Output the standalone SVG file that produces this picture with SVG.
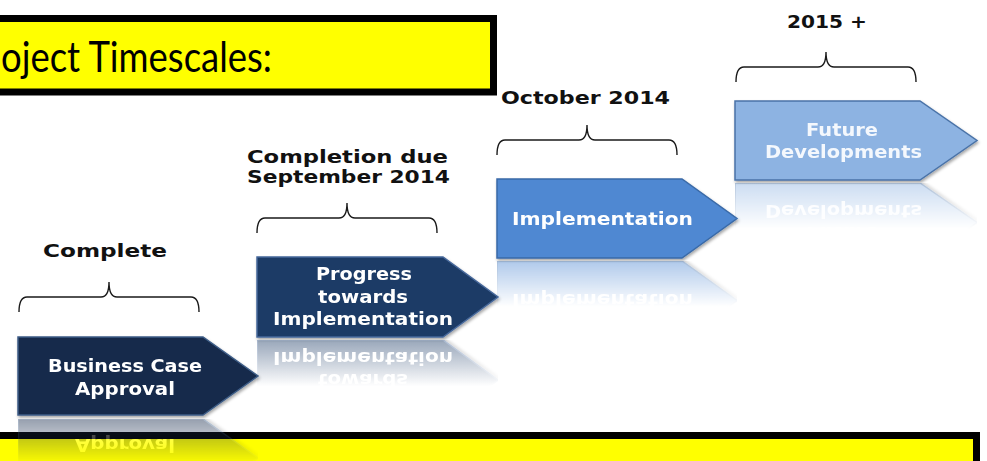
<svg xmlns="http://www.w3.org/2000/svg" width="987" height="461" viewBox="0 0 987 461">
  <style>
    .lbl { font-family: "DejaVu Sans", Verdana, sans-serif; font-weight: bold; font-size: 18px; fill: #111111; text-anchor: middle; }
    .ntx { font-family: "DejaVu Sans", Verdana, sans-serif; font-weight: bold; font-size: 18px; fill: #ffffff; text-anchor: middle; }
    .ntx4 { fill: #f4f8fd; }
    .brace { fill: none; stroke: #1a1a1a; stroke-width: 1.4; }
    .banner { fill: #ffff00; stroke: #000000; stroke-width: 7; }
    .title { font-family: Lato, "Liberation Sans", Arial, sans-serif; font-size: 42px; fill: #000000; }
  </style>
  <defs>
    <filter id="shadow" x="-10%" y="-10%" width="125%" height="130%">
      <feDropShadow dx="1" dy="2" stdDeviation="1.5" flood-color="#000000" flood-opacity="0.35"/>
    </filter>
    <linearGradient id="fadeGrad" x1="0" y1="0" x2="0" y2="1">
      <stop offset="0" stop-color="#ffffff" stop-opacity="0.45"/>
      <stop offset="0.3" stop-color="#ffffff" stop-opacity="0.22"/>
      <stop offset="0.58" stop-color="#ffffff" stop-opacity="0"/>
    </linearGradient>
    <mask id="fade" maskContentUnits="objectBoundingBox">
      <rect x="0" y="0" width="1" height="1" fill="url(#fadeGrad)"/>
    </mask>
  </defs>

  <!-- title banner -->
  <g id="title-box">
    <rect class="banner" x="-10" y="18.5" width="503.5" height="73.5"/>
    <text class="title" x="1" y="72" textLength="271" lengthAdjust="spacingAndGlyphs">oject Timescales:</text>
  </g>

  <!-- bottom banner -->
  <g id="bottom-box">
    <rect class="banner" x="-10" y="435.5" width="986.5" height="40"/>
  </g>

  <!-- nodes -->
  <g id="n1" filter="url(#shadow)">
    <path d="M18,337 H203 L258,376 L203,415 H18 Z" fill="#14294b" stroke="#3d5c86" stroke-width="1.5"/>
    <text class="ntx" x="125" y="372" textLength="154" lengthAdjust="spacingAndGlyphs">Business Case</text>
    <text class="ntx" x="125" y="395" textLength="100" lengthAdjust="spacingAndGlyphs">Approval</text>
  </g>
  <g id="n2" filter="url(#shadow)">
    <path d="M257,257 H443 L498,297 L443,337 H257 Z" fill="#1c3b66" stroke="#46679a" stroke-width="1.5"/>
    <text class="ntx" x="364" y="280" textLength="96" lengthAdjust="spacingAndGlyphs">Progress</text>
    <text class="ntx" x="363" y="303" textLength="90" lengthAdjust="spacingAndGlyphs">towards</text>
    <text class="ntx" x="363" y="325" textLength="180" lengthAdjust="spacingAndGlyphs">Implementation</text>
  </g>
  <g id="n3" filter="url(#shadow)">
    <path d="M497,179 H682 L737,218.5 L682,258 H497 Z" fill="#4f88d2" stroke="#3a6aa8" stroke-width="1.5"/>
    <text class="ntx" x="602.5" y="225" textLength="181" lengthAdjust="spacingAndGlyphs">Implementation</text>
  </g>
  <g id="n4" filter="url(#shadow)">
    <path d="M735,101 H920 L977,140.5 L920,180 H735 Z" fill="#8db3e2" stroke="#4a73a8" stroke-width="1.5"/>
    <text class="ntx ntx4" x="842" y="136" textLength="72" lengthAdjust="spacingAndGlyphs">Future</text>
    <text class="ntx ntx4" x="843.5" y="158" textLength="157" lengthAdjust="spacingAndGlyphs">Developments</text>
  </g>

  <!-- reflections -->
  <g id="reflections">
    <g mask="url(#fade)"><use href="#n1" transform="translate(0,834) scale(1,-1)"/></g>
    <g mask="url(#fade)"><use href="#n2" transform="translate(0,677) scale(1,-1)"/></g>
    <g mask="url(#fade)"><use href="#n3" transform="translate(0,519) scale(1,-1)"/></g>
    <g mask="url(#fade)"><use href="#n4" transform="translate(0,363) scale(1,-1)"/></g>
  </g>

  <!-- braces -->
  <g id="connectors">
    <path class="brace" d="M19,312 Q19,297 27,297 L101,297 Q109,297 109,282 Q109,297 117,297 L191,297 Q199,297 199,312"/>
    <path class="brace" d="M257,233 Q257,218 265,218 L339,218 Q347,218 347,203 Q347,218 355,218 L429,218 Q437,218 437,233"/>
    <path class="brace" d="M497,155 Q497,140 505,140 L579,140 Q587,140 587,125 Q587,140 595,140 L669,140 Q677,140 677,155"/>
    <path class="brace" d="M736,82 Q736,67 744,67 L818,67 Q826,67 826,52 Q826,67 834,67 L908,67 Q916,67 916,82"/>
  </g>
  <g id="labels">
    <text class="lbl" x="105" y="257" textLength="124" lengthAdjust="spacingAndGlyphs">Complete</text>
    <text class="lbl" x="347.5" y="163" textLength="201" lengthAdjust="spacingAndGlyphs">Completion due</text>
    <text class="lbl" x="348.5" y="183" textLength="203" lengthAdjust="spacingAndGlyphs">September 2014</text>
    <text class="lbl" x="585.5" y="104" textLength="169" lengthAdjust="spacingAndGlyphs">October 2014</text>
    <text class="lbl" x="827" y="28" textLength="80" lengthAdjust="spacingAndGlyphs">2015 +</text>
  </g>
</svg>
